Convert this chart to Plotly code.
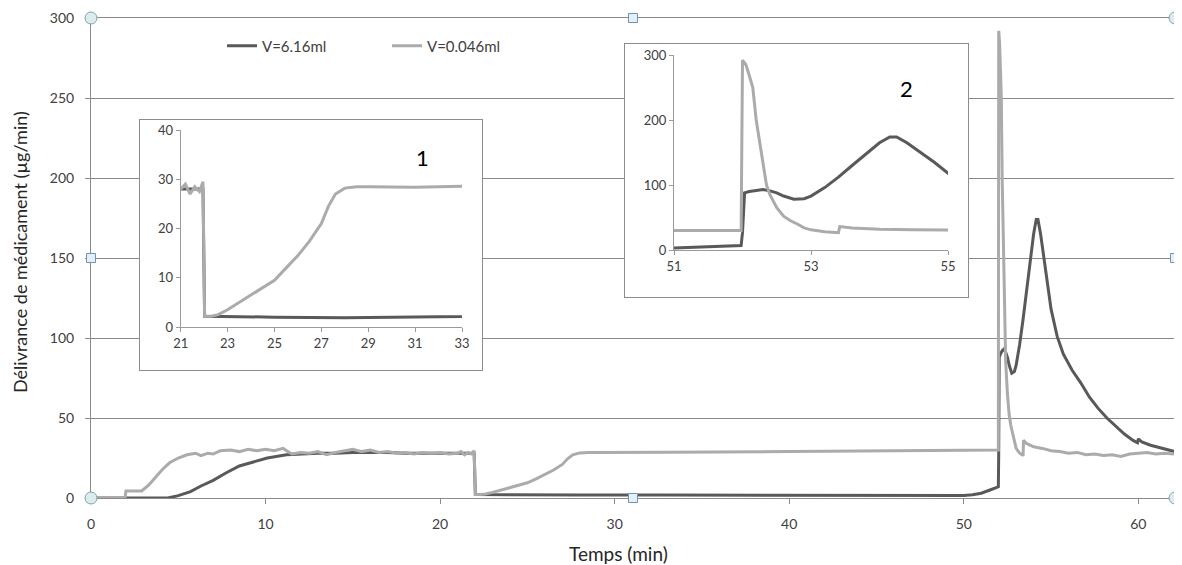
import plotly.graph_objects as go

# ---------------- data ----------------
t_dark = [0, 4.4, 5.0, 5.7, 6.3, 7.0, 7.7, 8.5, 9.3, 10.1, 11.2, 12, 13, 14, 15, 16, 17, 18, 19, 20, 21, 21.5,
          21.95, 22.02, 23, 25, 28, 33, 40, 45, 50, 50.5, 51, 51.5, 51.98, 52.0, 52.03, 52.1, 52.2, 52.3, 52.4,
          52.5, 52.6, 52.75, 52.9, 53.0, 53.2, 53.4, 53.6, 53.8, 54.0, 54.15, 54.25, 54.4, 54.6, 54.8, 55.0,
          55.35, 55.7, 56.2, 56.7, 57.2, 57.7, 58.2, 58.7, 59.2, 59.7, 59.95, 60.0, 60.2, 60.7, 61.2, 61.7, 62.1]
v_dark = [0, 0, 1.5, 4, 7.5, 11, 15.5, 20, 22.5, 25, 27, 27.5, 28, 28, 28.5, 28.5, 28.5, 28, 28, 28, 28, 28,
          28, 2.2, 2.1, 2.0, 1.9, 1.8, 1.5, 1.5, 1.5, 2, 3, 5, 7, 27, 88, 90, 92, 93, 91,
          88, 83, 78, 79, 83, 96, 112, 130, 148, 165, 174, 174, 165, 150, 135, 118,
          101, 90, 80, 72, 63, 56, 50, 45, 40, 36, 34.5, 37, 35, 33, 31.5, 30, 29]

t_light = [0, 1.95, 2.0, 2.9, 3.3, 3.7, 4.1, 4.5, 5.0, 5.5, 6.0, 6.3, 6.7, 7.0, 7.4, 8, 8.5, 9, 9.5, 10, 10.5,
           11, 11.5, 12, 12.5, 13, 13.5, 14, 14.5, 15, 15.5, 16, 16.5, 17, 17.5, 18, 18.5, 19, 19.5, 20, 20.5,
           21, 21.2, 21.4, 21.6, 21.8, 21.95, 22.02, 22.3, 22.6, 23, 23.5, 24, 24.5, 25, 25.5, 26, 26.5, 27,
           27.3, 27.6, 28, 28.5, 29, 30, 31, 33, 40, 45, 50, 51, 51.98, 52.0, 52.05, 52.1, 52.15, 52.2, 52.25,
           52.3, 52.35, 52.4, 52.5, 52.6, 52.7, 52.8, 52.9, 53.0, 53.2, 53.4, 53.42, 53.6, 53.8, 54, 54.5, 55,
           55.5, 56, 56.5, 57, 57.5, 58, 58.5, 59, 59.5, 60, 60.5, 61, 61.5, 62.1]
v_light = [0, 0, 4.4, 4.4, 8, 13, 18, 22, 25, 27, 28, 26.5, 28, 27.5, 29.5, 30, 29, 30.5, 29.5, 30.5, 29.5,
           31, 27.5, 28.5, 28, 29, 27, 28.5, 29.5, 30.5, 29, 30, 28.5, 29, 28, 28.5, 27.5, 28.5, 28, 28.5, 27.5,
           28, 29, 27, 28.5, 27.5, 29.5, 2.2, 2.2, 2.5, 3.5, 5, 6.5, 8, 9.5, 12, 14.5, 17.5, 21,
           24.5, 27, 28.2, 28.5, 28.5, 28.4, 28.4, 28.6, 29, 29.3, 29.5, 29.8, 30, 292, 285, 268, 250, 200, 165,
           130, 100, 85, 65, 52, 45, 40, 34, 31, 28, 26.5, 36, 34, 33, 32, 31, 29.5,
           29, 28, 28.5, 27, 27.5, 26.5, 27, 26, 27.5, 28, 28.5, 27.5, 28, 27.5]

name_dark = "V=6.16ml"
name_light = "V=0.046ml"
main_xticks = [0, 10, 20, 30, 40, 50, 60]
inset1_xticks = [21, 23, 25, 27, 29, 31, 33]
inset2_xticks = [51, 53, 55]

# ---------------- styling ----------------
DARK = "#595959"
LIGHT = "#ababab"
GRID = "#8a8a8a"
TXT = "#404040"
FONT = "Lato"

OFF = 8                      # page body margin
W, H = 1182, 565
L, R, T, B = 83, 15, 10, 75
PW, PH = W - L - R, H - T - B


def px(xa):
    """absolute window x -> paper x"""
    return (xa - OFF - L) / PW


def py(ya):
    """absolute window y -> paper y"""
    return (H - B - (ya - OFF)) / PH


fig = go.Figure()

for xa, ya, show in [("x", "y", True), ("x3", "y3", False), ("x5", "y5", False)]:
    fig.add_trace(go.Scatter(x=t_dark, y=v_dark, mode="lines", name=name_dark,
                             line=dict(color=DARK, width=3), xaxis=xa, yaxis=ya,
                             showlegend=show, legendgroup="d"))
    fig.add_trace(go.Scatter(x=t_light, y=v_light, mode="lines", name=name_light,
                             line=dict(color=LIGHT, width=3), xaxis=xa, yaxis=ya,
                             showlegend=show, legendgroup="l"))

# empty traces for the inset frames
for xa, ya in [("x2", "y2"), ("x4", "y4")]:
    fig.add_trace(go.Scatter(x=[], y=[], xaxis=xa, yaxis=ya, showlegend=False, hoverinfo="skip"))

tickfont = dict(family=FONT, size=14, color=TXT)
ifont = dict(family=FONT, size=13, color=TXT)

frame_axis = dict(showline=True, mirror=True, linecolor="#8c8c8c", linewidth=1, showgrid=False,
                  zeroline=False, showticklabels=False, ticks="", range=[0, 1], fixedrange=True,
                  automargin=False)
inset_axis = dict(ticks="outside", ticklen=4, tickcolor="#9a9a9a", showline=True, linecolor="#9a9a9a",
                  showgrid=False, zeroline=False, tickfont=ifont, automargin=False)

fig.update_layout(
    width=W, height=H, autosize=False,
    margin=dict(l=L, r=R, t=T, b=B, autoexpand=False),
    paper_bgcolor="white", plot_bgcolor="white",
    font=dict(family=FONT, color=TXT),
    xaxis=dict(domain=[0, 1], range=[0, 62.1], tickvals=main_xticks, ticks="outside", ticklen=5,
               tickcolor=GRID, showline=True, linecolor=GRID, mirror=True, showgrid=False, zeroline=False,
               tickfont=tickfont, ticklabelstandoff=8, automargin=False),
    yaxis=dict(domain=[0, 1], range=[0, 300], dtick=50, ticks="outside", ticklen=5, tickcolor=GRID,
               showline=True, linecolor=GRID, mirror=True, showgrid=True, gridcolor=GRID, gridwidth=1,
               zeroline=False, tickfont=tickfont, ticklabelstandoff=8, automargin=False),
    xaxis2=dict(domain=[px(140), px(482)], anchor="y2", **frame_axis),
    yaxis2=dict(domain=[py(370), py(120)], anchor="x2", **frame_axis),
    xaxis3=dict(domain=[px(180.7), px(462)], anchor="y3", range=[21, 33], tickvals=inset1_xticks,
                **inset_axis),
    yaxis3=dict(domain=[py(327), py(130)], anchor="x3", range=[0, 40], dtick=10, **inset_axis),
    xaxis4=dict(domain=[px(625), px(968)], anchor="y4", **frame_axis),
    yaxis4=dict(domain=[py(297), py(44)], anchor="x4", **frame_axis),
    xaxis5=dict(domain=[px(674), px(948)], anchor="y5", range=[51, 55], tickvals=inset2_xticks,
                **inset_axis),
    yaxis5=dict(domain=[py(250), py(55)], anchor="x5", range=[0, 300], dtick=100, **inset_axis),
    legend=dict(orientation="h", x=px(222), xanchor="left", y=py(46), yanchor="middle",
                entrywidth=120, entrywidthmode="pixels", bgcolor="rgba(0,0,0,0)",
                font=dict(family=FONT, size=15, color=TXT)),
    showlegend=True,
)

annotations = [
    dict(text="Temps (min)", x=px(618), y=py(553), xref="paper", yref="paper", showarrow=False,
         font=dict(family=FONT, size=19, color="#262626"), xanchor="center", yanchor="middle"),
    dict(text="Délivrance de médicament (µg/min)", x=px(20), y=py(252), xref="paper", yref="paper",
         showarrow=False, textangle=-90, font=dict(family=FONT, size=18, color="#262626"),
         xanchor="center", yanchor="middle"),
    dict(text="1", x=px(422), y=py(157), xref="paper", yref="paper", showarrow=False,
         font=dict(family=FONT, size=22, color="black"), xanchor="center", yanchor="middle"),
    dict(text="2", x=px(906), y=py(88), xref="paper", yref="paper", showarrow=False,
         font=dict(family=FONT, size=22, color="black"), xanchor="center", yanchor="middle"),
]
fig.update_layout(annotations=annotations)

# selection handles of the plot area
shapes = []
for (hx, hy) in [(0, 0), (1, 0), (0, 1), (1, 1)]:
    shapes.append(dict(type="circle", xref="paper", yref="paper", xsizemode="pixel", ysizemode="pixel",
                       xanchor=hx, yanchor=hy, x0=-6, x1=6, y0=-6, y1=6,
                       fillcolor="#dcecee", line=dict(color="#7fa3aa", width=1), layer="above"))
for (hx, hy) in [(0.5, 0), (0.5, 1), (0, 0.5), (1, 0.5)]:
    shapes.append(dict(type="rect", xref="paper", yref="paper", xsizemode="pixel", ysizemode="pixel",
                       xanchor=hx, yanchor=hy, x0=-4.5, x1=4.5, y0=-4.5, y1=4.5,
                       fillcolor="#e4f0f8", line=dict(color="#6b93bb", width=1), layer="above"))
fig.update_layout(shapes=shapes)

fig.write_html("out.html")
